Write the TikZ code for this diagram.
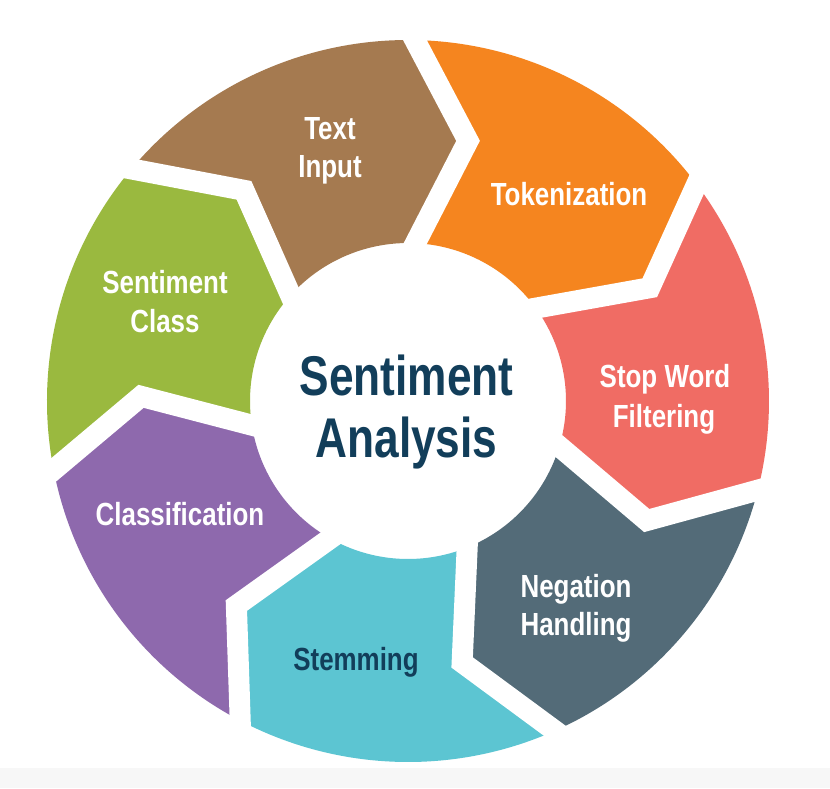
\documentclass[tikz,border=0pt]{standalone}
\usepackage{fontspec}
\usetikzlibrary{calc}
\newfontfamily\lblfont{Liberation Sans}[FakeStretch=0.81]
\newfontfamily\ctrfont{Liberation Sans}[FakeStretch=0.79]
\definecolor{cbrown}{HTML}{A57A50}
\definecolor{corange}{HTML}{F5851F}
\definecolor{csalmon}{HTML}{F06C64}
\definecolor{cslate}{HTML}{536B78}
\definecolor{ccyan}{HTML}{5CC5D2}
\definecolor{cpurple}{HTML}{8E69AD}
\definecolor{cgreen}{HTML}{9AB93F}
\definecolor{navy}{HTML}{123E5A}
\definecolor{bandgray}{HTML}{F7F7F7}
\tikzset{
  seglabel/.style={font=\lblfont\bfseries\fontsize{32}{38}\selectfont, text=white, anchor=base, inner sep=0pt},
  ctrlabel/.style={font=\ctrfont\bfseries\fontsize{56}{62}\selectfont, text=navy, anchor=base, inner sep=0pt},
  gapline/.style={draw=white, line width=21pt, line join=miter, line cap=butt},
}
\begin{document}
\begin{tikzpicture}[x=1pt,y=1pt]
\useasboundingbox (-408,-387) rectangle (422,401);
\fill[white] (-408,-387) rectangle (422,401);
\fill[bandgray] (-408,-387) rectangle (422,-367);
% boundary points: outer O, tip K, inner I
\foreach \n/\o/\k/\i in {0/36.9/25.1/36.0, 1/88.9/77.0/87.3, 2/140.0/127.9/138.0, 3/191.0/179.0/188.8, 4/242.3/230.0/240.5, 5/294.0/281.7/292.0, 6/345.7/333.4/343.3}{
  \coordinate (O\n) at (\o:361);
  \coordinate (K\n) at (\k:267);
  \coordinate (I\n) at (\i:158);
}
% segments
\fill[corange] (36.9:361) arc[start angle=36.9, end angle=88.9, radius=361] -- (77.0:267) -- (87.3:158) arc[start angle=87.3, end angle=36.0, radius=158] -- (25.1:267) -- cycle;
\fill[cbrown] (88.9:361) arc[start angle=88.9, end angle=140.0, radius=361] -- (127.9:267) -- (138.0:158) arc[start angle=138.0, end angle=87.3, radius=158] -- (77.0:267) -- cycle;
\fill[cgreen] (140.0:361) arc[start angle=140.0, end angle=191.0, radius=361] -- (179.0:267) -- (188.8:158) arc[start angle=188.8, end angle=138.0, radius=158] -- (127.9:267) -- cycle;
\fill[cpurple] (191.0:361) arc[start angle=191.0, end angle=242.3, radius=361] -- (230.0:267) -- (240.5:158) arc[start angle=240.5, end angle=188.8, radius=158] -- (179.0:267) -- cycle;
\fill[ccyan] (242.3:361) arc[start angle=242.3, end angle=294.0, radius=361] -- (281.7:267) -- (292.0:158) arc[start angle=292.0, end angle=240.5, radius=158] -- (230.0:267) -- cycle;
\fill[cslate] (294.0:361) arc[start angle=294.0, end angle=345.7, radius=361] -- (333.4:267) -- (343.3:158) arc[start angle=343.3, end angle=292.0, radius=158] -- (281.7:267) -- cycle;
\fill[csalmon] (345.7:361) arc[start angle=345.7, end angle=396.9, radius=361] -- (385.1:267) -- (396.0:158) arc[start angle=396.0, end angle=343.3, radius=158] -- (333.4:267) -- cycle;
% white gaps
\foreach \n in {0,...,6}{
  \draw[gapline] ($(K\n)!1.3!(O\n)$) -- (K\n) -- ($(K\n)!1.45!(I\n)$);
}
% labels
\node[seglabel] (ti1) at (-78,262) {Text};
\node[seglabel] (ti2) at (-78,224) {Input};
\node[seglabel] (tok) at (161,196) {Tokenization};
\node[seglabel] (sw1) at (257,14) {Stop Word};
\node[seglabel] (sw2) at (256,-26) {Filtering};
\node[seglabel] (ng1) at (168,-196) {Negation};
\node[seglabel] (ng2) at (168,-234) {Handling};
\node[seglabel, text=navy] (stm) at (-52,-269) {Stemming};
\node[seglabel] (cls) at (-228,-124) {Classification};
\node[seglabel] (sc1) at (-243,108) {Sentiment};
\node[seglabel] (sc2) at (-243,69) {Class};
\node[ctrlabel] (c1) at (-1.5,6) {Sentiment};
\node[ctrlabel] (c2) at (-1.5,-56) {Analysis};
\end{tikzpicture}
\end{document}
